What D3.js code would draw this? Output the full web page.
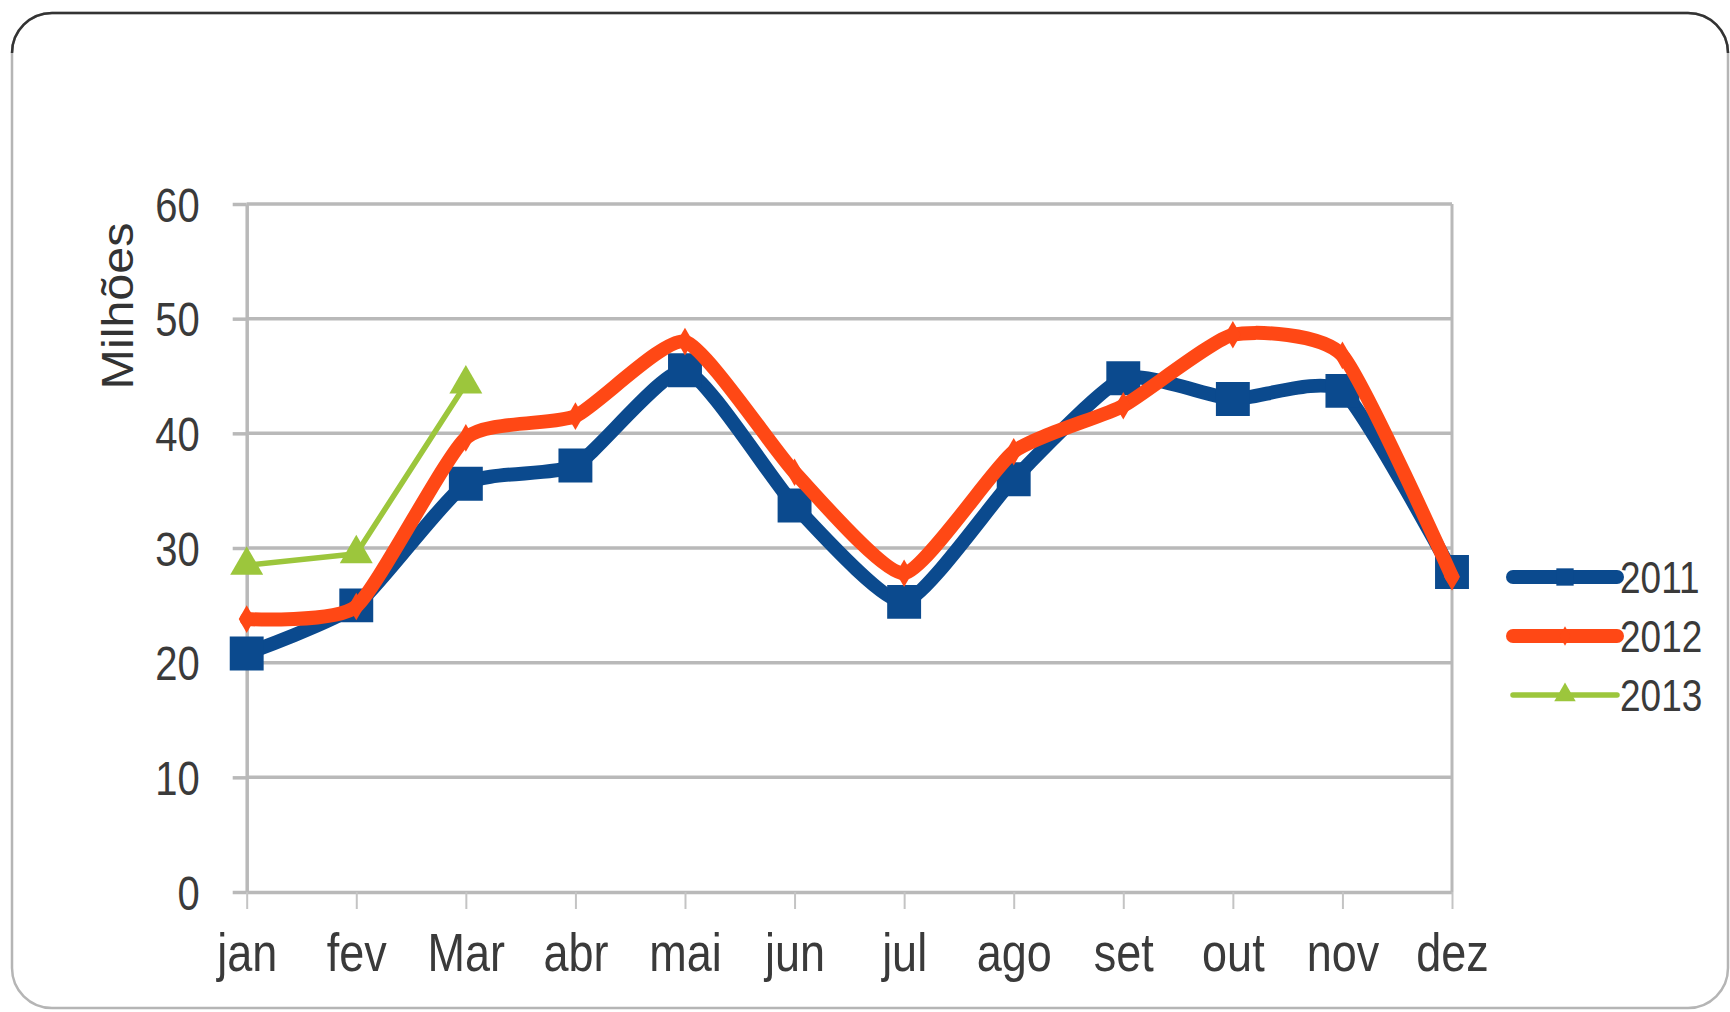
<!DOCTYPE html>
<meta charset="utf-8">
<script src="https://d3js.org/d3.v7.min.js"></script>
<body style="margin:0;background:#fff">
<svg width="1730" height="1012"></svg>
<script>
// data (millions)
var months = ["jan", "fev", "Mar", "abr", "mai", "jun", "jul", "ago", "set", "out", "nov", "dez"];
var v2011 = [20.8, 25.0, 35.6, 37.2, 45.5, 33.7, 25.3, 36.0, 44.8, 43.0, 43.7, 27.9];
var v2012 = [23.8, 24.9, 39.6, 41.5, 48.0, 36.6, 27.8, 38.4, 42.4, 48.6, 46.8, 27.5];
var v2013 = [28.5, 29.5, 44.3];
var years = ["2011", "2012", "2013"];
var yTicks = [0, 10, 20, 30, 40, 50, 60];

var svg = d3.select("svg");
var stretch = 1.2;   // the source picture is a bit taller than wide
var gridCol = "#b9b9b9", textCol = "#3a3a3a";

var series = [
    {name: years[0], values: v2011, color: "#0b4a8e", width: 14, shape: d3.symbolSquare, size: 1150, lsize: 300, smooth: true},
    {name: years[1], values: v2012, color: "#ff4815", width: 14, shape: d3.symbolDiamond, size: 220, lsize: 110, smooth: true},
    {name: years[2], values: v2013, color: "#9cc63c", width: 5.5, shape: d3.symbolTriangle, size: 470, lsize: 200, smooth: false}
];

// outer frame
svg.append("rect")
    .attr("x", 12).attr("y", 13).attr("width", 1716).attr("height", 995)
    .attr("rx", 40).attr("ry", 40)
    .attr("fill", "#fff").attr("stroke", "#b5b5b5").attr("stroke-width", 2.5);
svg.append("path")
    .attr("d", "M12,53 A40,40 0 0 1 52,13 L1688,13 A40,40 0 0 1 1728,53")
    .attr("fill", "none").attr("stroke", "#333").attr("stroke-width", 2.5);

var x = d3.scalePoint().domain(months).range([246.7, 1452]);
var y = d3.scaleLinear().domain([0, 60]).range([892, 204]);

// grid
svg.append("g").selectAll("line").data(yTicks.slice(1)).enter().append("line")
    .attr("x1", 246.7).attr("x2", 1452)
    .attr("y1", function(d){ return y(d); }).attr("y2", function(d){ return y(d); })
    .attr("stroke", gridCol).attr("stroke-width", 3.5);

svg.append("line")
    .attr("x1", 1452).attr("x2", 1452).attr("y1", y(60)).attr("y2", y(0))
    .attr("stroke", gridCol).attr("stroke-width", 3);

// y axis
var yAxis = svg.append("g").attr("transform", "translate(246.7,0)")
    .call(d3.axisLeft(y).tickValues(yTicks).tickSize(14).tickSizeOuter(0).tickPadding(33));
yAxis.select(".domain").attr("stroke", gridCol).attr("stroke-width", 3.5);
yAxis.selectAll(".tick line").attr("stroke", gridCol).attr("stroke-width", 3.5);
yAxis.selectAll(".tick text")
    .attr("font-family", "Liberation Sans, Arial, sans-serif")
    .attr("font-size", 40).attr("fill", textCol)
    .attr("dy", "0.36em")
    .attr("transform", "scale(1," + stretch + ")");

// x axis
var xAxis = svg.append("g").attr("transform", "translate(0,892)")
    .call(d3.axisBottom(x).tickSize(17).tickSizeOuter(0));
xAxis.select(".domain").attr("stroke", gridCol).attr("stroke-width", 3.5);
xAxis.selectAll(".tick line").attr("stroke", "#c4c4c4").attr("stroke-width", 2);
xAxis.selectAll(".tick text")
    .attr("font-family", "Liberation Sans, Arial, sans-serif")
    .attr("font-size", 45).attr("fill", textCol)
    .attr("y", 79 / stretch).attr("dy", 0)
    .attr("transform", "scale(1," + stretch + ")");

// y title
svg.append("text")
    .attr("transform", "translate(133,306) rotate(-90) scale(1.1,1)")
    .attr("text-anchor", "middle")
    .attr("font-family", "Liberation Sans, Arial, sans-serif")
    .attr("font-size", 44).attr("fill", "#333")
    .text("Milhões");

// series
series.forEach(function(s){
    var pts = s.values.map(function(v, i){ return [x(months[i]), y(v)]; });
    var line = d3.line().curve(s.smooth ? d3.curveCardinal.tension(0.45) : d3.curveLinear);
    svg.append("path")
        .attr("d", line(pts))
        .attr("fill", "none").attr("stroke", s.color)
        .attr("stroke-width", s.width)
        .attr("stroke-linejoin", "round").attr("stroke-linecap", "round");
    svg.append("g").selectAll("path").data(pts).enter().append("path")
        .attr("d", d3.symbol(s.shape, s.size))
        .attr("transform", function(p){ return "translate(" + p[0] + "," + p[1] + ")"; })
        .attr("fill", s.color);
});

// legend
var leg = svg.append("g").selectAll("g").data(series).enter().append("g")
    .attr("transform", function(d, i){ return "translate(1513," + (577 + i * 59) + ")"; });
leg.append("line")
    .attr("x1", 0).attr("x2", 104)
    .attr("stroke", function(d){ return d.color; })
    .attr("stroke-width", function(d){ return d.width; })
    .attr("stroke-linecap", "round");
leg.append("path")
    .attr("d", function(d){ return d3.symbol(d.shape, d.lsize)(); })
    .attr("transform", "translate(52,0)")
    .attr("fill", function(d){ return d.color; });
leg.append("text")
    .attr("x", 107).attr("dy", "0.36em")
    .attr("transform", "scale(1," + stretch + ")")
    .attr("font-family", "Liberation Sans, Arial, sans-serif")
    .attr("font-size", 37).attr("fill", textCol)
    .text(function(d){ return d.name; });
</script>
</body>
